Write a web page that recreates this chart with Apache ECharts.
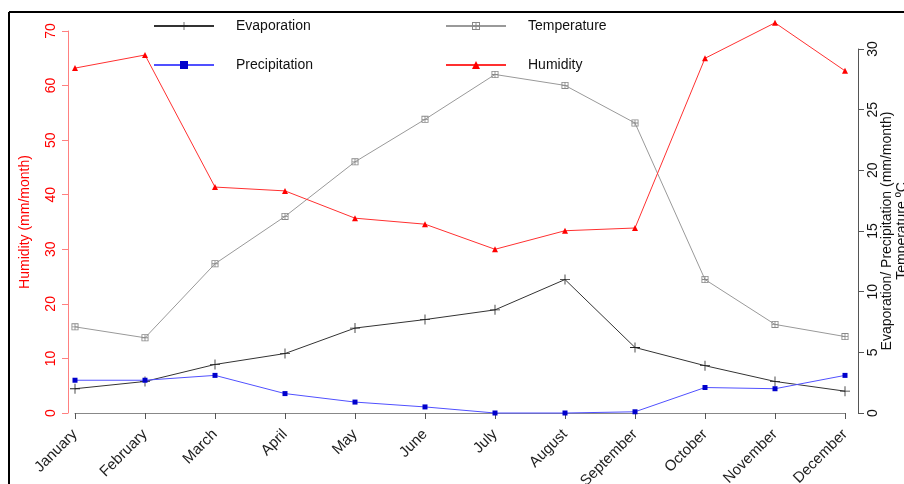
<!DOCTYPE html>
<html><head><meta charset="utf-8">
<script src="https://cdn.jsdelivr.net/npm/echarts@6/dist/echarts.min.js"></script>
<style>html,body{margin:0;padding:0;background:#fff}#c{width:904px;height:484px}</style>
</head><body><div id="c"></div>
<script>
const months = ['January','February','March','April','May','June','July','August','September','October','November','December'];
const humidity = [63.2, 65.6, 41.4, 40.7, 35.7, 34.6, 30.0, 33.4, 33.9, 65.0, 71.5, 62.7];
const temperature = [7.1, 6.2, 12.3, 16.2, 20.7, 24.2, 27.9, 27.0, 23.9, 11.0, 7.3, 6.3];
const evaporation = [2.0, 2.6, 4.0, 4.9, 7.0, 7.7, 8.5, 11.0, 5.4, 3.9, 2.6, 1.8];
const precipitation = [2.7, 2.7, 3.1, 1.6, 0.9, 0.5, 0.0, 0.0, 0.1, 2.1, 2.0, 3.1];
const leftTicks = [0, 70, 10];
const rightTicks = [0, 30, 5];

const plusSym = 'path://M0,4.6H10V5.4H0Z M4.6,0H5.4V10H4.6Z';
const boxSym = 'path://M0,0H10V1.2H0Z M0,8.8H10V10H0Z M0,0H1.2V10H0Z M8.8,0H10V10H8.8Z M0,4.4H10V5.6H0Z M4.4,0H5.6V10H4.4Z';
const font = 'Liberation Sans, Arial, sans-serif';

const chart = echarts.init(document.getElementById('c'), null, {renderer: 'canvas'});
chart.setOption({
  animation: false,
  textStyle: {fontFamily: font},
  grid: [
    {left: 75, right: 59, top: 31, bottom: 71, outerBoundsMode: 'none', containLabel: false},
    {left: 75, right: 59, top: 49, bottom: 71, outerBoundsMode: 'none', containLabel: false}
  ],
  legend: [
    {orient: 'vertical', left: 153, top: 19, padding: 0, itemWidth: 60, itemHeight: 10, itemGap: 25,
     data: ['Evaporation', 'Precipitation'],
     textStyle: {fontSize: 14, color: '#111', fontFamily: font, padding: [0, 0, 0, 17]}},
    {orient: 'vertical', left: 445, top: 19, padding: 0, itemWidth: 60, itemHeight: 10, itemGap: 25,
     data: ['Temperature', 'Humidity'],
     textStyle: {fontSize: 14, color: '#111', fontFamily: font, padding: [0, 0, 0, 17]}}
  ],
  xAxis: [
    {type: 'category', gridIndex: 0, data: months, boundaryGap: false, offset: 16,
     axisLine: {lineStyle: {color: '#888', width: 1}},
     axisTick: {show: true, length: 6, alignWithLabel: true, lineStyle: {color: '#555'}},
     axisLabel: {rotate: 45, interval: 0, fontSize: 15, color: '#222', margin: 3, fontFamily: font},
     splitLine: {show: false}},
    {type: 'category', gridIndex: 1, data: months, boundaryGap: false, show: false}
  ],
  yAxis: [
    {type: 'value', gridIndex: 0, min: leftTicks[0], max: leftTicks[1], interval: leftTicks[2], offset: 7,
     name: 'Humidity (mm/month)', nameLocation: 'middle', nameRotate: 90, nameGap: 36,
     nameTextStyle: {color: '#ff0000', fontSize: 14, fontFamily: font},
     axisLine: {show: true, lineStyle: {color: '#ff8080'}},
     axisTick: {show: true, length: 6, lineStyle: {color: '#ff8080'}},
     axisLabel: {rotate: 90, color: '#ff0000', fontSize: 14, margin: 10, fontFamily: font},
     splitLine: {show: false}},
    {type: 'value', gridIndex: 1, position: 'right', min: rightTicks[0], max: rightTicks[1], interval: rightTicks[2], offset: 13,
     name: 'Evaporation/ Precipitation (mm/month)\nTemperature ºC', nameLocation: 'middle', nameRotate: 90, nameGap: 22,
     nameMoveOverlap: false,
     nameTextStyle: {color: '#111', fontSize: 14, lineHeight: 15, fontFamily: font},
     axisLine: {show: true, lineStyle: {color: '#555'}},
     axisTick: {show: true, length: 6, lineStyle: {color: '#555'}},
     axisLabel: {rotate: 90, color: '#111', fontSize: 14, margin: 8, fontFamily: font},
     splitLine: {show: false}}
  ],
  series: [
    {name: 'Evaporation', type: 'line', xAxisIndex: 1, yAxisIndex: 1, data: evaporation, clip: false,
     symbol: plusSym, symbolSize: 10, lineStyle: {color: '#333', width: 1}, itemStyle: {color: '#222'}},
    {name: 'Temperature', type: 'line', xAxisIndex: 1, yAxisIndex: 1, data: temperature, clip: false,
     symbol: boxSym, symbolSize: 7, lineStyle: {color: '#999', width: 1}, itemStyle: {color: '#888'}},
    {name: 'Precipitation', type: 'line', xAxisIndex: 1, yAxisIndex: 1, data: precipitation, clip: false,
     symbol: 'rect', symbolSize: 5, lineStyle: {color: '#5050ff', width: 1}, itemStyle: {color: '#0000cc'}},
    {name: 'Humidity', type: 'line', xAxisIndex: 0, yAxisIndex: 0, data: humidity, clip: false,
     symbol: 'triangle', symbolSize: 6, lineStyle: {color: '#ff3030', width: 1}, itemStyle: {color: '#ff0000'}}
  ],
  graphic: [
    {type: 'line', shape: {x1: 9, y1: 12, x2: 904, y2: 12}, style: {stroke: '#000', lineWidth: 2}},
    {type: 'line', shape: {x1: 9, y1: 12, x2: 9, y2: 484}, style: {stroke: '#000', lineWidth: 2}}
  ]
});
</script></body></html>
